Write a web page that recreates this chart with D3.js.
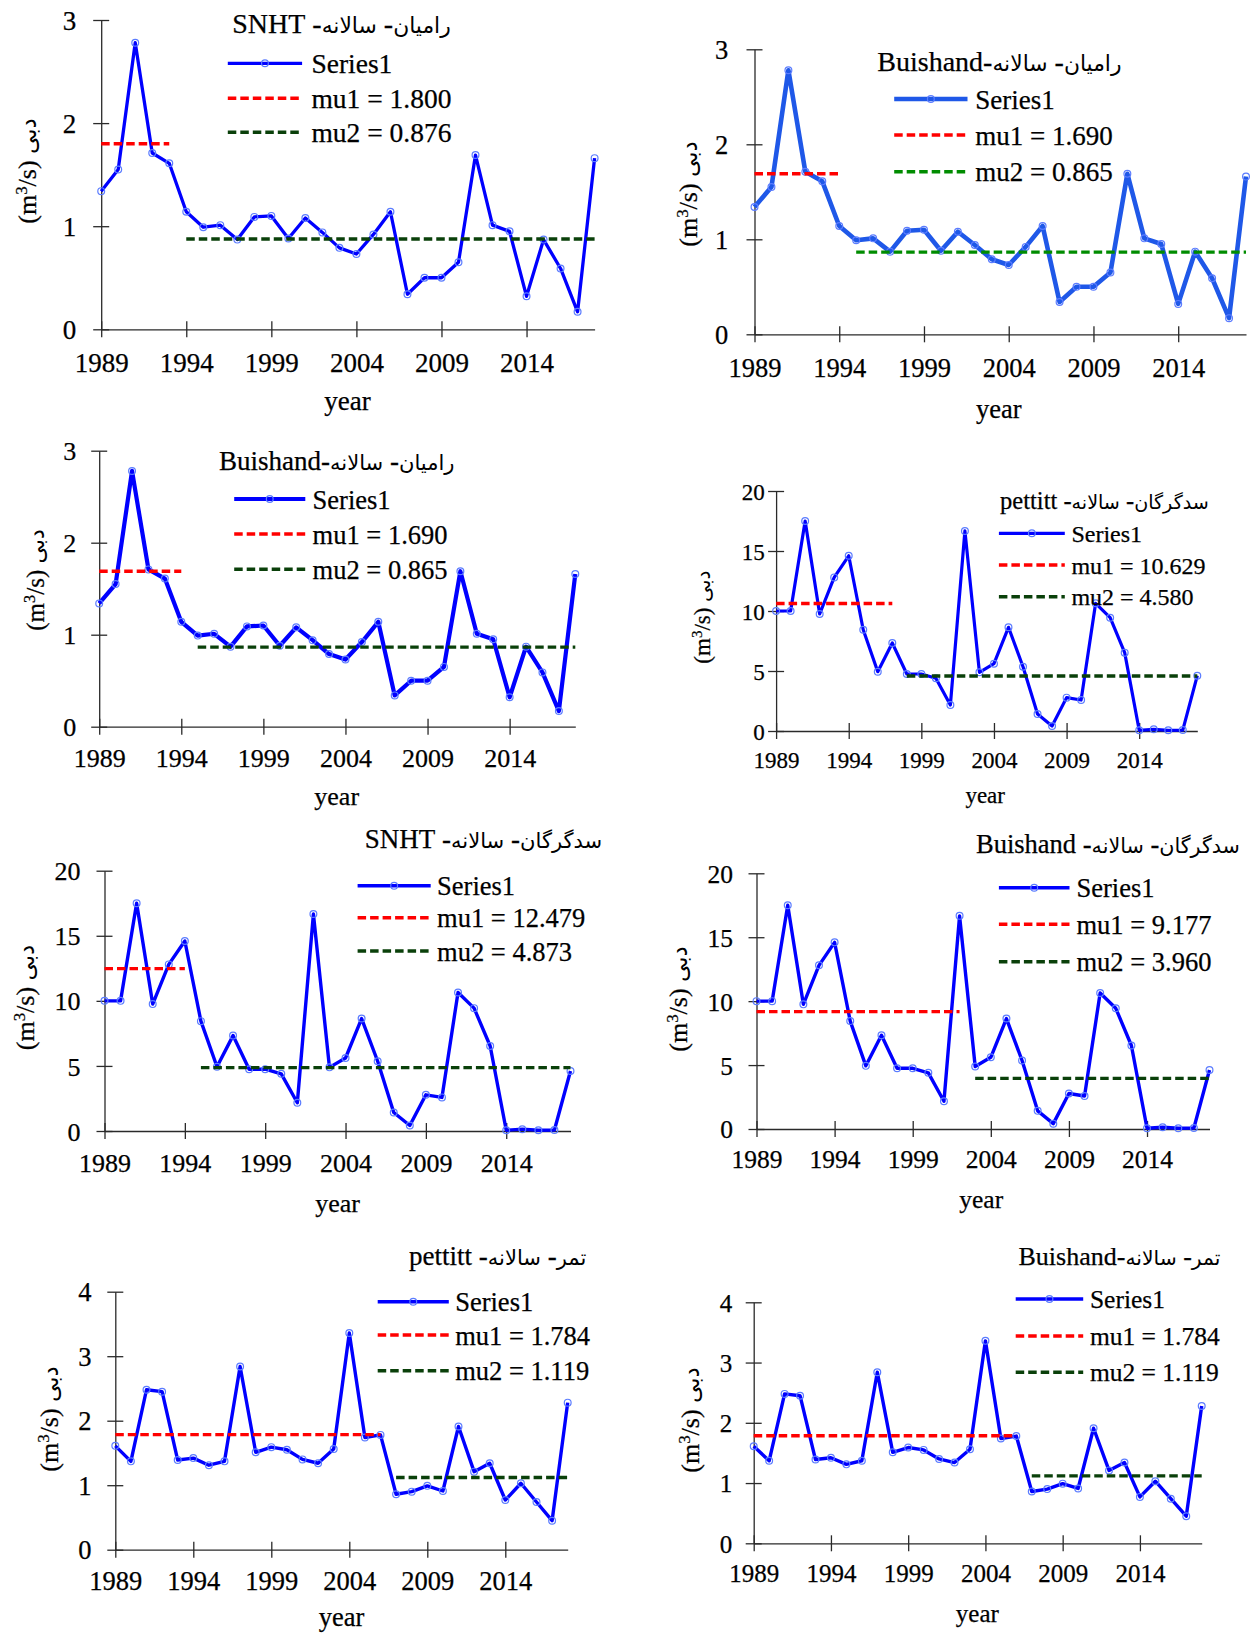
<!DOCTYPE html>
<html>
<head>
<meta charset="utf-8">
<script src="https://cdn.jsdelivr.net/npm/d3@7"></script>
<style>
  body { margin: 0; background: #fff; }
  svg { display: block; }
  text { font-family: "Liberation Serif", "DejaVu Sans", serif; fill: #000; stroke: #000; stroke-width: 0.25px; }
  tspan.ar { font-family: "DejaVu Sans", sans-serif; stroke-width: 0; }
</style>
</head>
<body>
<svg id="chart" width="1255" height="1634"></svg>
<script>
// ---------------- DATA ----------------
const years = [1989, 1990, 1991, 1992, 1993, 1994, 1995, 1996, 1997, 1998,
               1999, 2000, 2001, 2002, 2003, 2004, 2005, 2006, 2007, 2008,
               2009, 2010, 2011, 2012, 2013, 2014, 2015, 2016, 2017, 2018];

const ramianFlow = [1.34, 1.55, 2.78, 1.71, 1.61, 1.14, 0.99, 1.01, 0.87, 1.09,
                    1.10, 0.88, 1.08, 0.94, 0.79, 0.73, 0.92, 1.14, 0.34, 0.50,
                    0.50, 0.65, 1.69, 1.01, 0.95, 0.32, 0.87, 0.59, 0.17, 1.66];

const sadgorganFlow = [10.0, 10.0, 17.5, 9.75, 12.8, 14.6, 8.44, 4.94, 7.33, 4.75,
                       4.75, 4.39, 2.17, 16.67, 4.89, 5.61, 8.64, 5.36, 1.42, 0.42,
                       2.78, 2.58, 10.64, 9.44, 6.53, 0.06, 0.14, 0.06, 0.08, 4.61];

const tamarFlow = [1.61, 1.37, 2.48, 2.45, 1.39, 1.42, 1.31, 1.37, 2.84, 1.51,
                   1.59, 1.55, 1.40, 1.34, 1.56, 3.36, 1.74, 1.78, 0.86, 0.90,
                   0.99, 0.91, 1.91, 1.21, 1.34, 0.77, 1.03, 0.74, 0.45, 2.28];

const panelStations = ["ramian", "ramian", "ramian", "sadgorgan", "sadgorgan", "sadgorgan", "tamar", "tamar"];
const panelTitles = [
  "رامیان- سالانه- SNHT",
  "رامیان- سالانه-Buishand",
  "رامیان- سالانه-Buishand",
  "سدگرگان- سالانه- pettitt",
  "سدگرگان- سالانه- SNHT",
  "سدگرگان- سالانه- Buishand",
  "تمر- سالانه- pettitt",
  "تمر- سالانه-Buishand"
];
const mu1Values = [1.800, 1.690, 1.690, 10.629, 12.479, 9.177, 1.784, 1.784];
const mu2Values = [0.876, 0.865, 0.865, 4.580, 4.873, 3.960, 1.119, 1.119];
const mu1EndYears = [1993, 1994, 1994, 1997, 1994, 2002, 2006, 2006];
const mu2StartYears = [1994, 1995, 1995, 1998, 1995, 2003, 2007, 2007];

const seriesName = "Series1";
const xTickYears = [1989, 1994, 1999, 2004, 2009, 2014];
const yTicksRamian = [0, 1, 2, 3];
const yTicksSadgorgan = [0, 5, 10, 15, 20];
const yTicksTamar = [0, 1, 2, 3, 4];
const xAxisTitle = "year";
const yAxisTitleUnitA = "(m";
const yAxisTitleSup = "3";
const yAxisTitleUnitB = "/s) ";
const yAxisTitleWord = "دبی";

const stationFlows = { ramian: ramianFlow, sadgorgan: sadgorganFlow, tamar: tamarFlow };
const stationTicks = { ramian: yTicksRamian, sadgorgan: yTicksSadgorgan, tamar: yTicksTamar };

// ---------------- LAYOUT (positions / sizes / styles) ----------------
const DARKGREEN = "#0a400a";
const AR_SCALE = 0.78;
const AR_SCALE_YLABEL = 0.88;
const layouts = [
  {ax:101.2, xr:594.6, y0:329.3, yt:20, fs:27, tickRight:76.3, xlabY:372, titleX:232.2, titleY:33.3, tfs:28,
   lx1:227.8, lx2:302.1, ltx:311.4, ly:[63.3,98.3,132.3], lfs:27.5, yearX:347.5, yearY:410, ylX:36, ylY:171, yfs:26,
   blue:"#0000ff", sw:3.3, green:DARKGREEN},
  {ax:754.5, xr:1246, y0:334.3, yt:49.3, fs:26.5, tickRight:728.2, xlabY:376.7, titleX:877.3, titleY:71, tfs:28,
   lx1:894.2, lx2:967.5, ltx:975.3, ly:[99,135,171.7], lfs:27, yearX:998.9, yearY:418, ylX:697, ylY:194, yfs:26,
   blue:"#1f58e8", sw:4.6, green:"#008c00"},
  {ax:99.2, xr:575.3, y0:726.7, yt:450.7, fs:26, tickRight:76.3, xlabY:766.7, titleX:219, titleY:470, tfs:27,
   lx1:234.2, lx2:305.3, ltx:312.6, ly:[499,534,569.3], lfs:26.5, yearX:336.7, yearY:805, ylX:44, ylY:580, yfs:25,
   blue:"#0000ff", sw:4.2, green:DARKGREEN},
  {ax:776.1, xr:1197.3, y0:731, yt:491, fs:23, tickRight:764.7, xlabY:768, titleX:1000.1, titleY:509, tfs:24.5,
   lx1:998.9, lx2:1064.8, ltx:1071.4, ly:[533.3,565,596.7], lfs:24, yearX:985.2, yearY:803, ylX:710, ylY:617, yfs:23,
   blue:"#0000ff", sw:3.2, green:DARKGREEN},
  {ax:104.5, xr:570.5, y0:1131, yt:870.7, fs:26, tickRight:80.4, xlabY:1171.7, titleX:364.8, titleY:848.3, tfs:27,
   lx1:357.6, lx2:430.7, ltx:437.1, ly:[885.7,917.7,951], lfs:26.5, yearX:337.5, yearY:1211.7, ylX:34, ylY:997.5, yfs:26,
   blue:"#0000ff", sw:3.4, green:DARKGREEN},
  {ax:756.5, xr:1209.5, y0:1129, yt:873.3, fs:25.5, tickRight:733, xlabY:1168.3, titleX:976, titleY:853.3, tfs:26.5,
   lx1:998.9, lx2:1069.5, ltx:1076.5, ly:[887.7,924.3,961.7], lfs:26.5, yearX:981.2, yearY:1208, ylX:687, ylY:999, yfs:26,
   blue:"#0000ff", sw:3.4, green:DARKGREEN},
  {ax:115.3, xr:567.7, y0:1549.7, yt:1291.7, fs:26.5, tickRight:91.6, xlabY:1590, titleX:409, titleY:1265, tfs:27,
   lx1:377.7, lx2:448.8, ltx:455.2, ly:[1301.7,1335,1370.7], lfs:26.5, yearX:341.5, yearY:1626, ylX:58, ylY:1419, yfs:26,
   blue:"#0000ff", sw:3.4, green:DARKGREEN},
  {ax:753.7, xr:1201.7, y0:1543.3, yt:1302.3, fs:25, tickRight:732.2, xlabY:1581.7, titleX:1018.5, titleY:1265, tfs:26,
   lx1:1015.7, lx2:1083.2, ltx:1089.9, ly:[1299,1336,1372.3], lfs:25.5, yearX:977.3, yearY:1621.7, ylX:699, ylY:1420, yfs:26,
   blue:"#0000ff", sw:3.4, green:DARKGREEN}
];

const svg = d3.select("#chart");
const AXIS = "#2a2a2a";
const MARKER = "#5b7cff";
const DASH = "8.5,4";
const SERIF = '"Liberation Serif", serif';

// Append a mixed Persian/Latin string, giving Persian letter runs their own font size
function appendMixed(textSel, str, size) {
  str.split(/([\u0600-\u06FF]+)/).filter(s => s.length).forEach(part => {
    const isAr = /[\u0600-\u06FF]/.test(part);
    const t = textSel.append("tspan").text(part);
    if (isAr) t.attr("class", "ar").attr("font-size", size * AR_SCALE);
  });
}

panelTitles.forEach((title, i) => {
  const L = layouts[i];
  const flows = stationFlows[panelStations[i]];
  const yTicks = stationTicks[panelStations[i]];
  const data = years.map((yr, k) => ({ year: yr, value: flows[k] }));

  const x = d3.scaleLinear().domain([years[0], years[years.length - 1]]).range([L.ax, L.xr]);
  const y = d3.scaleLinear().domain([0, yTicks[yTicks.length - 1]]).range([L.y0, L.yt]);

  const g = svg.append("g");

  // X axis
  const xAxis = g.append("g")
    .attr("transform", `translate(0,${L.y0})`)
    .call(d3.axisBottom(x).tickValues(xTickYears).tickFormat(d3.format("d")).tickSizeOuter(0));
  xAxis.attr("font-family", null).attr("font-size", null);
  xAxis.select(".domain").attr("stroke", AXIS).attr("stroke-width", 1.3);
  xAxis.selectAll(".tick line").attr("y1", -8).attr("y2", 8).attr("stroke", AXIS).attr("stroke-width", 1.3);
  xAxis.selectAll(".tick text")
    .attr("y", L.xlabY - L.y0).attr("dy", null)
    .style("font-family", SERIF).style("font-size", L.fs + "px").attr("fill", "#000");

  // Y axis
  const yAxis = g.append("g")
    .attr("transform", `translate(${L.ax},0)`)
    .call(d3.axisLeft(y).tickValues(yTicks).tickFormat(d3.format("d")).tickSizeOuter(0));
  yAxis.attr("font-family", null).attr("font-size", null);
  yAxis.select(".domain").attr("stroke", AXIS).attr("stroke-width", 1.3);
  yAxis.selectAll(".tick line").attr("x1", -8).attr("x2", 8).attr("stroke", AXIS).attr("stroke-width", 1.3);
  yAxis.selectAll(".tick text")
    .attr("x", L.tickRight - L.ax).attr("dy", "0.35em").attr("text-anchor", "end")
    .style("font-family", SERIF).style("font-size", L.fs + "px").attr("fill", "#000");

  // Series line
  const line = d3.line().x(d => x(d.year)).y(d => y(d.value));
  g.append("path").datum(data)
    .attr("d", line).attr("fill", "none")
    .attr("stroke", L.blue).attr("stroke-width", L.sw).attr("stroke-linejoin", "round");
  g.selectAll("circle.pt").data(data).enter().append("circle")
    .attr("class", "pt")
    .attr("cx", d => x(d.year)).attr("cy", d => y(d.value)).attr("r", 3.4)
    .attr("fill", "none").attr("stroke", MARKER).attr("stroke-width", 1.2);

  // mu lines
  g.append("line")
    .attr("x1", x(years[0])).attr("x2", x(mu1EndYears[i]))
    .attr("y1", y(mu1Values[i])).attr("y2", y(mu1Values[i]))
    .attr("stroke", "#ff0000").attr("stroke-width", 3.4).attr("stroke-dasharray", DASH);
  g.append("line")
    .attr("x1", x(mu2StartYears[i])).attr("x2", x(years[years.length - 1]))
    .attr("y1", y(mu2Values[i])).attr("y2", y(mu2Values[i]))
    .attr("stroke", L.green).attr("stroke-width", 3.4).attr("stroke-dasharray", DASH);

  // Title (RTL paragraph, anchored at its left end)
  const tt = g.append("text")
    .attr("x", L.titleX).attr("y", L.titleY)
    .attr("direction", "rtl").attr("text-anchor", "end")
    .attr("font-size", L.tfs);
  appendMixed(tt, title, L.tfs);

  // Legend
  const leg = g.append("g");
  leg.append("line").attr("x1", L.lx1).attr("x2", L.lx2).attr("y1", L.ly[0]).attr("y2", L.ly[0])
    .attr("stroke", L.blue).attr("stroke-width", L.sw);
  leg.append("circle").attr("cx", (L.lx1 + L.lx2) / 2).attr("cy", L.ly[0]).attr("r", 3.4)
    .attr("fill", "none").attr("stroke", MARKER).attr("stroke-width", 1.2);
  leg.append("line").attr("x1", L.lx1).attr("x2", L.lx2).attr("y1", L.ly[1]).attr("y2", L.ly[1])
    .attr("stroke", "#ff0000").attr("stroke-width", 3.4).attr("stroke-dasharray", DASH);
  leg.append("line").attr("x1", L.lx1).attr("x2", L.lx2).attr("y1", L.ly[2]).attr("y2", L.ly[2])
    .attr("stroke", L.green).attr("stroke-width", 3.4).attr("stroke-dasharray", DASH);
  const legLabels = [seriesName, "mu1 = " + mu1Values[i].toFixed(3), "mu2 = " + mu2Values[i].toFixed(3)];
  legLabels.forEach((t, k) => {
    leg.append("text").attr("x", L.ltx).attr("y", L.ly[k]).attr("dy", "0.36em")
      .attr("font-size", L.lfs).text(t);
  });

  // Axis titles
  g.append("text").attr("x", L.yearX).attr("y", L.yearY).attr("text-anchor", "middle")
    .attr("font-size", L.fs).text(xAxisTitle);

  const yl = g.append("text")
    .attr("transform", `translate(${L.ylX},${L.ylY}) rotate(-90)`)
    .attr("text-anchor", "middle").attr("font-size", L.yfs);
  yl.append("tspan").text(yAxisTitleUnitA);
  yl.append("tspan").attr("baseline-shift", "super").attr("font-size", L.yfs * 0.65).text(yAxisTitleSup);
  yl.append("tspan").text(yAxisTitleUnitB);
  yl.append("tspan").attr("class", "ar").attr("font-size", L.yfs * AR_SCALE_YLABEL).text(yAxisTitleWord);
});
</script>
</body>
</html>
